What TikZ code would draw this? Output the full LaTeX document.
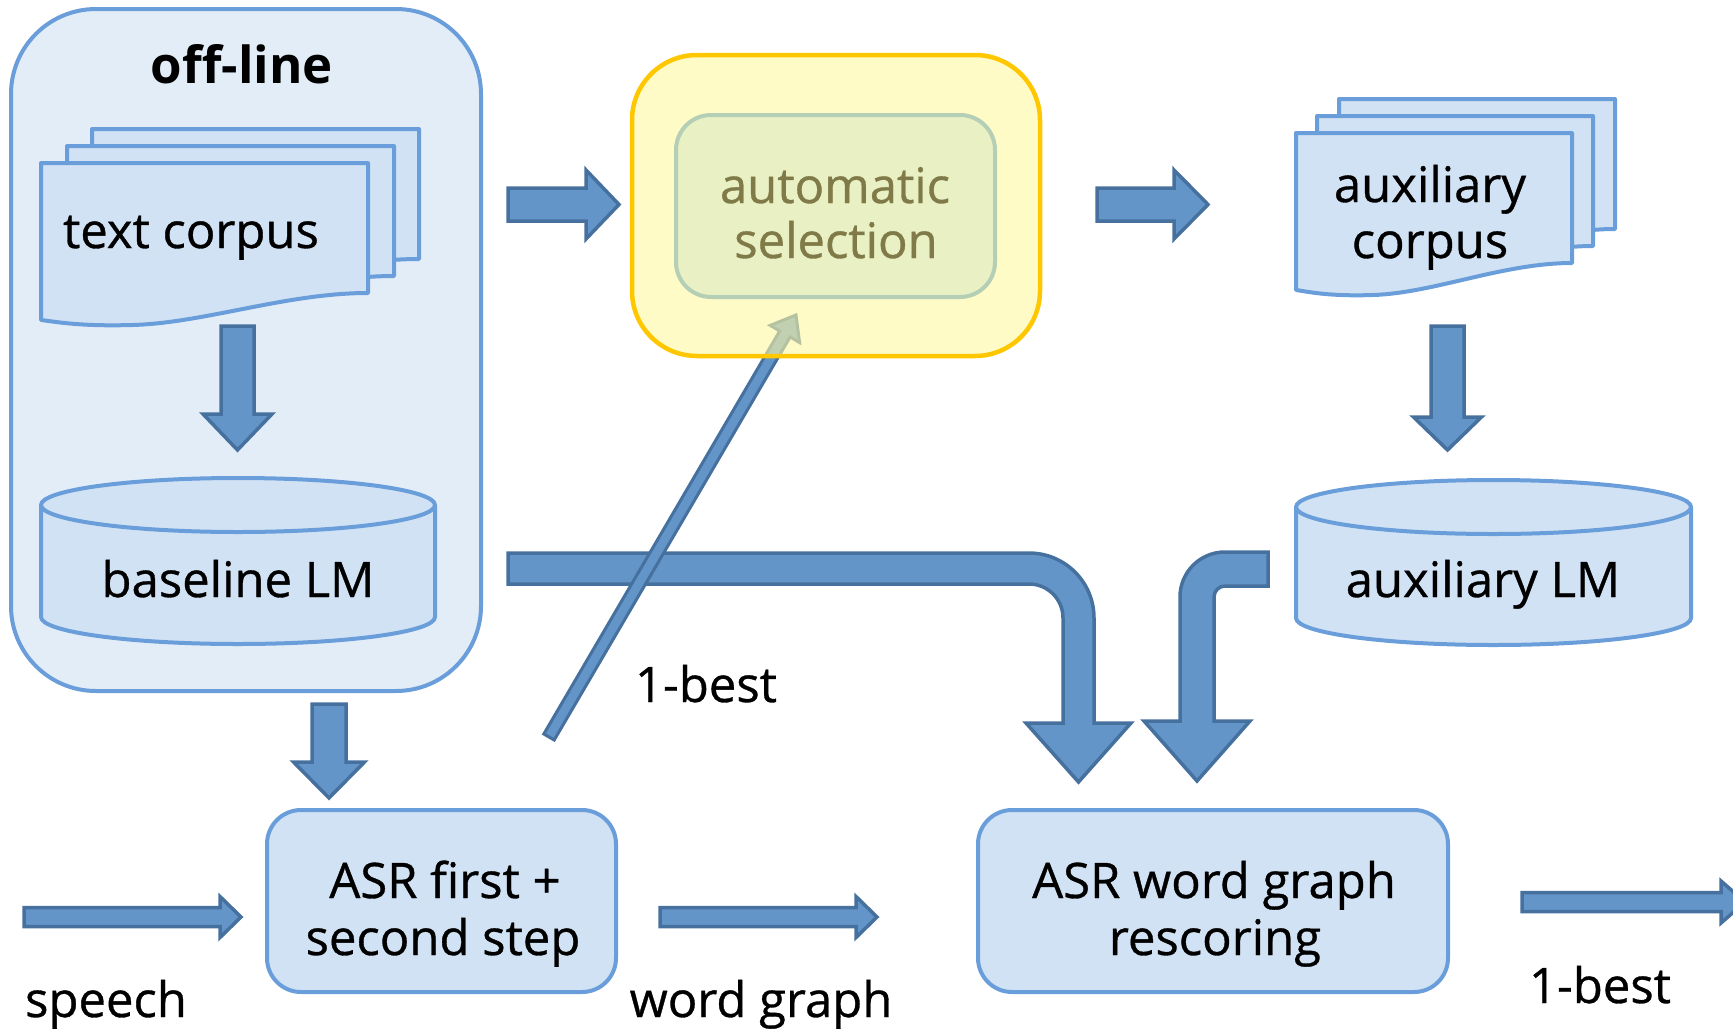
\documentclass[tikz,border=0pt]{standalone}
\usepackage{fontspec}
\setmainfont{Open Sans}
\newfontfamily\lblfont{Open Sans}[FakeBold=0.7]
\definecolor{lineblue}{HTML}{6A9EDA}
\definecolor{contfill}{HTML}{E3EDF8}
\definecolor{boxfill}{HTML}{D1E2F4}
\definecolor{arrfill}{HTML}{6395C9}
\definecolor{arrline}{HTML}{46719F}
\definecolor{yelfill}{HTML}{FFF8A2}
\definecolor{yelline}{HTML}{FFC700}
\definecolor{selfill}{HTML}{E8F0C4}
\definecolor{selline}{HTML}{B5CFB6}
\definecolor{seltext}{HTML}{7F7A48}
\newcommand\harrow[6]{%
  \draw[barrow] (#1,{#3-#4}) -- ({#2-#6},{#3-#4}) -- ({#2-#6},{#3-#5}) -- (#2,#3)
   -- ({#2-#6},{#3+#5}) -- ({#2-#6},{#3+#4}) -- (#1,{#3+#4}) -- cycle;}
\newcommand\varrow[6]{%
  \draw[barrow] ({#1-#4},#2) -- ({#1-#4},{#3-#6}) -- ({#1-#5},{#3-#6}) -- (#1,#3)
   -- ({#1+#5},{#3-#6}) -- ({#1+#4},{#3-#6}) -- ({#1+#4},#2) -- cycle;}
\newcommand\drawdoc[3]{%
  \draw[docstyle] (#1,#2) -- ({#1+#3},#2) -- ({#1+#3},{#2+130})
   .. controls ({#1+0.75*#3},{#2+130}) and ({#1+0.5*#3},{#2+160}) .. ({#1+0.28*#3},{#2+162})
   .. controls ({#1+0.12*#3},{#2+163.5}) and ({#1+0.05*#3},{#2+159}) .. (#1,{#2+157}) -- cycle;}
\newcommand\drawcyl[5]{% X1 X2 yT yB ry
  \pgfmathsetmacro\cylcx{(#1+#2)/2}\pgfmathsetmacro\cylrx{(#2-#1)/2}
  \pgfmathsetmacro\cylk{0.5523*\cylrx}
  \filldraw[docstyle] (#1,#3) -- (#1,#4)
   .. controls (#1,{#4+0.5523*#5}) and ({\cylcx-\cylk},{#4+#5}) .. (\cylcx,{#4+#5})
   .. controls ({\cylcx+\cylk},{#4+#5}) and (#2,{#4+0.5523*#5}) .. (#2,#4) -- (#2,#3);
  \filldraw[docstyle] (\cylcx,#3) ellipse [x radius=\cylrx, y radius=#5];}
\begin{document}
\begin{tikzpicture}[x=1pt,y=-1pt,
  container/.style={draw=lineblue, line width=4pt, fill=contfill, rounded corners=85pt,
     inner sep=0pt, minimum width=470pt, minimum height=682pt},
  procbox/.style={draw=lineblue, line width=4pt, fill=boxfill, rounded corners=34pt,
     inner sep=0pt, minimum height=182pt},
  docstyle/.style={draw=lineblue, line width=4pt, fill=boxfill, line join=round},
  barrow/.style={draw=arrline, fill=arrfill, line width=3.5pt, line join=miter},
  lbl/.style={font=\lblfont\fontsize{49}{58}\selectfont, inner sep=0pt, anchor=base}]
\useasboundingbox (0,0) rectangle (1733,1034);
\clip (0,0) rectangle (1733,1034);

% off-line container
\node[container] (offline) at (246,350) {};
\node[lbl, font=\fontsize{51}{58}\selectfont\bfseries] (offlbl) at (242,83) {off-line};

% text corpus stack
\drawdoc{92}{129}{327}
\drawdoc{67}{146}{327}
\drawdoc{41}{163}{327}
\node[lbl] (textcorpus) at (191,248) {text corpus};

% baseline LM
\drawcyl{41}{435}{505}{617}{27}
\node[lbl] (baselm) at (238,597) {baseline LM};

% vertical arrows
\varrow{237.5}{326}{450}{16.5}{34.5}{36}
\varrow{1447.5}{326}{450}{16.5}{34}{33}
\varrow{329}{704}{798}{17}{35.5}{36}

% big bent arrow from baseline LM to rescoring
\draw[barrow] (508,553) -- (1029,553) .. controls (1064.9,553) and (1094,582.1) .. (1094,618)
  -- (1094,723) -- (1131,723) -- (1078.5,782) -- (1026,723) -- (1063,723) -- (1063,618)
  .. controls (1063,599.2) and (1047.8,584) .. (1029,584) -- (508,584) -- cycle;

% bent arrow from auxiliary LM to rescoring
\draw[barrow] (1268,552) -- (1225,552) .. controls (1200.1,552) and (1180,572.1) .. (1180,597)
  -- (1180,721) -- (1144,721) -- (1197,781) -- (1250,721) -- (1214,721) -- (1214,597)
  .. controls (1214,590.9) and (1218.9,586) .. (1225,586) -- (1268,586) -- cycle;

% diagonal 1-best arrow
\draw[barrow, line width=3pt] (543.8,734.0) -- (779.7,331.0) -- (770.2,325.4) -- (796,315)
  -- (799.6,342.6) -- (790.1,337.0) -- (554.2,740.0) -- cycle;
\node[lbl] (onebestA) at (706,702) {1-best};

% automatic selection
\node[draw=yelline, line width=4.5pt, fill=yelfill, fill opacity=0.6, draw opacity=1,
  rounded corners=65pt, minimum width=408pt, minimum height=301pt, inner sep=0pt]
  (selouter) at (836,205.5) {};
\node[draw=selline, line width=4pt, fill=selfill, rounded corners=35pt,
  minimum width=319pt, minimum height=182pt, inner sep=0pt] (selinner) at (835.5,206) {};
\node[lbl, text=seltext] (selA) at (835,203) {automatic};
\node[lbl, text=seltext] (selB) at (836,258) {selection};

% top horizontal arrows
\harrow{508}{619}{204.5}{16.5}{34.5}{33}
\harrow{1097}{1208}{204.5}{16.5}{34.5}{34}

% auxiliary corpus stack
\drawdoc{1339}{99}{276}
\drawdoc{1317}{116}{276}
\drawdoc{1296}{133}{276}
\node[lbl] (auxA) at (1430,202) {auxiliary};
\node[lbl] (auxB) at (1430,258) {corpus};

% auxiliary LM
\drawcyl{1296}{1691}{507}{618}{27}
\node[lbl] (auxlm) at (1483,597) {auxiliary LM};

% ASR first + second step
\node[procbox, minimum width=349pt] (asr1) at (441.5,901) {};
\node[lbl] (asr1a) at (445,898) {ASR first +};
\node[lbl] (asr1b) at (443,955) {second step};

% ASR word graph rescoring
\node[procbox, minimum width=470pt] (asr2) at (1213,901) {};
\node[lbl] (asr2a) at (1214,898) {ASR word graph};
\node[lbl] (asr2b) at (1215,955) {rescoring};

% bottom arrows
\harrow{24}{241}{917}{9.5}{20.5}{21}
\harrow{660}{877}{917}{9.5}{20.5}{21}
\harrow{1522}{1745}{902}{9.5}{21}{24}
\node[lbl] (speech) at (106,1017) {speech};
\node[lbl] (wgraph) at (761,1017) {word graph};
\node[lbl] (onebestB) at (1600,1003) {1-best};
\end{tikzpicture}
\end{document}
